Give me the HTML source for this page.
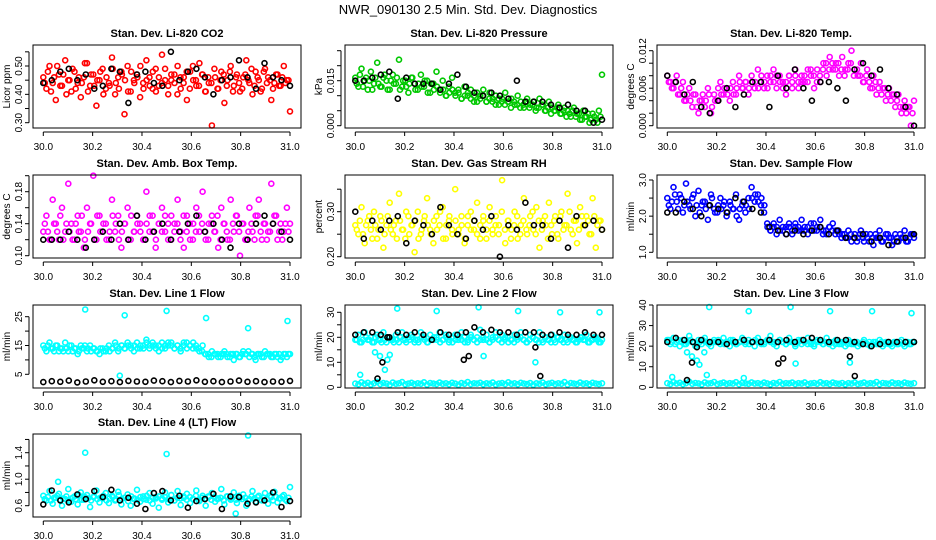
<!DOCTYPE html>
<html><head><meta charset="utf-8"><title>NWR_090130 Diagnostics</title>
<style>
html,body{margin:0;padding:0;background:#fff;}
svg{display:block;font-family:"Liberation Sans",sans-serif;}
</style></head>
<body>
<svg id="chart" width="936" height="540" viewBox="0 0 936 540" xmlns="http://www.w3.org/2000/svg">
<text x="468" y="14" text-anchor="middle" font-size="13">NWR_090130  2.5 Min. Std. Dev. Diagnostics</text>
</svg>
<script>
// ---- data ----
const xTicks = [30.0,30.2,30.4,30.6,30.8,31.0];
const titles = ["Stan. Dev. Li-820 CO2","Stan. Dev. Li-820 Pressure","Stan. Dev. Li-820 Temp.","Stan. Dev. Amb. Box Temp.","Stan. Dev. Gas Stream RH","Stan. Dev. Sample Flow","Stan. Dev. Line 1 Flow","Stan. Dev. Line 2 Flow","Stan. Dev. Line 3 Flow","Stan. Dev. Line 4 (LT) Flow"];
const yLabels = ["Licor ppm","kPa","degrees C","degrees C","percent","ml/min","ml/min","ml/min","ml/min","ml/min"];
const colors = ["#ff0000","#00c800","#ff00ff","#ff00ff","#ffff00","#0000ff","#00ffff","#00ffff","#00ffff","#00ffff"];

const co2Color = [0.46,0.42,0.50,0.44,0.38,0.47,0.43,0.52,0.45,0.41,0.48,0.44,0.39,0.46,0.51,0.43,0.47,0.36,0.45,0.49,0.42,0.44,0.53,0.40,0.46,0.48,0.33,0.50,0.41,0.45,0.47,0.39,0.44,0.52,0.46,0.42,0.49,0.43,0.54,0.45,0.40,0.47,0.44,0.50,0.42,0.46,0.38,0.48,0.45,0.43,0.51,0.47,0.41,0.44,0.29,0.46,0.42,0.48,0.37,0.45,0.50,0.43,0.47,0.41,0.46,0.52,0.44,0.40,0.48,0.45,0.42,0.49,0.46,0.38,0.44,0.47,0.43,0.50,0.45,0.34];
const co2ColorB = [0.44,0.48,0.41,0.46,0.50,0.43,0.47,0.40,0.45,0.49,0.42,0.46,0.44,0.51,0.41,0.47,0.43,0.45,0.48,0.40,0.46,0.43,0.49,0.44,0.42,0.47,0.45,0.41,0.48,0.44,0.46,0.50,0.42,0.45,0.43,0.48,0.41,0.46,0.44,0.49,0.43,0.45,0.47,0.40,0.46,0.44,0.48,0.42,0.50,0.45,0.43,0.47,0.41,0.46,0.44,0.49,0.42,0.45,0.47,0.43,0.48,0.41,0.46,0.44,0.42,0.47,0.45,0.49,0.43,0.46,0.41,0.48,0.44,0.45,0.42,0.47,0.43,0.46,0.44,0.45];
const co2Black = [0.44,0.45,0.48,0.49,0.45,0.47,0.42,0.43,0.49,0.48,0.37,0.47,0.48,0.44,0.43,0.55,0.45,0.48,0.49,0.46,0.40,0.45,0.46,0.52,0.46,0.42,0.51,0.46,0.45,0.43];
const presColor = [0.016,0.013,0.019,0.015,0.012,0.018,0.014,0.021,0.013,0.016,0.015,0.012,0.017,0.014,0.022,0.013,0.015,0.011,0.016,0.014,0.012,0.017,0.013,0.015,0.011,0.014,0.018,0.012,0.015,0.010,0.013,0.016,0.011,0.012,0.009,0.013,0.010,0.012,0.008,0.011,0.010,0.012,0.008,0.011,0.009,0.010,0.007,0.009,0.011,0.008,0.009,0.007,0.010,0.008,0.006,0.009,0.007,0.008,0.006,0.009,0.007,0.005,0.008,0.006,0.005,0.007,0.004,0.006,0.005,0.003,0.006,0.004,0.002,0.005,0.003,0.001,0.004,0.002,0.005,0.017];
const presColorB = [0.014,0.017,0.013,0.016,0.015,0.012,0.016,0.014,0.013,0.017,0.012,0.015,0.014,0.016,0.012,0.015,0.013,0.014,0.016,0.012,0.014,0.013,0.015,0.011,0.014,0.012,0.013,0.011,0.012,0.010,0.011,0.012,0.010,0.011,0.009,0.010,0.011,0.009,0.010,0.008,0.009,0.010,0.008,0.009,0.008,0.007,0.009,0.008,0.007,0.008,0.006,0.008,0.007,0.006,0.007,0.008,0.006,0.007,0.005,0.006,0.007,0.005,0.006,0.004,0.005,0.006,0.004,0.005,0.003,0.004,0.005,0.003,0.004,0.002,0.003,0.004,0.002,0.003,0.001,0.003];
const presBlack = [0.015,0.015,0.016,0.017,0.018,0.009,0.016,0.014,0.014,0.014,0.012,0.014,0.017,0.013,0.011,0.010,0.011,0.010,0.009,0.015,0.008,0.008,0.008,0.007,0.006,0.007,0.005,0.005,0.001,0.002];
const tempColor = [0.008,0.007,0.006,0.008,0.005,0.007,0.004,0.006,0.003,0.005,0.002,0.004,0.003,0.006,0.002,0.005,0.004,0.007,0.005,0.006,0.004,0.007,0.005,0.008,0.006,0.007,0.005,0.008,0.006,0.009,0.007,0.006,0.008,0.007,0.009,0.006,0.008,0.007,0.005,0.008,0.007,0.009,0.006,0.008,0.007,0.009,0.008,0.006,0.009,0.007,0.010,0.008,0.011,0.009,0.010,0.008,0.011,0.009,0.010,0.012,0.009,0.008,0.010,0.007,0.009,0.006,0.008,0.005,0.007,0.006,0.004,0.006,0.005,0.003,0.005,0.002,0.004,0.003,0.000,0.004];
const tempColorB = [0.007,0.006,0.007,0.005,0.006,0.004,0.005,0.004,0.005,0.003,0.004,0.005,0.004,0.005,0.003,0.004,0.006,0.005,0.006,0.005,0.006,0.005,0.006,0.007,0.006,0.007,0.006,0.007,0.007,0.006,0.008,0.007,0.006,0.008,0.007,0.008,0.007,0.006,0.007,0.008,0.006,0.008,0.007,0.007,0.008,0.007,0.009,0.008,0.007,0.008,0.009,0.010,0.009,0.010,0.009,0.010,0.009,0.008,0.009,0.010,0.008,0.009,0.008,0.007,0.008,0.007,0.006,0.007,0.006,0.005,0.006,0.005,0.004,0.005,0.004,0.003,0.003,0.002,0.003,0.002];
const tempBlack = [0.008,0.007,0.005,0.007,0.003,0.002,0.004,0.006,0.003,0.005,0.007,0.007,0.003,0.008,0.006,0.009,0.006,0.004,0.007,0.007,0.006,0.004,0.009,0.010,0.008,0.009,0.006,0.005,0.003,0.000];
const ambColor = [0.13,0.15,0.12,0.17,0.14,0.12,0.16,0.13,0.19,0.14,0.12,0.15,0.13,0.11,0.16,0.14,0.20,0.12,0.15,0.13,0.14,0.12,0.17,0.13,0.15,0.11,0.14,0.16,0.12,0.13,0.15,0.14,0.12,0.18,0.13,0.15,0.11,0.14,0.16,0.13,0.12,0.15,0.14,0.17,0.13,0.11,0.15,0.12,0.14,0.16,0.13,0.18,0.12,0.14,0.15,0.13,0.11,0.16,0.14,0.12,0.17,0.13,0.15,0.10,0.14,0.12,0.16,0.13,0.15,0.17,0.12,0.14,0.13,0.19,0.15,0.12,0.14,0.13,0.16,0.14];
const ambColorB = [0.14,0.13,0.12,0.14,0.13,0.15,0.12,0.14,0.13,0.12,0.14,0.13,0.15,0.12,0.13,0.14,0.12,0.15,0.13,0.14,0.12,0.13,0.15,0.14,0.12,0.13,0.14,0.12,0.15,0.13,0.14,0.13,0.12,0.14,0.15,0.13,0.12,0.14,0.13,0.15,0.14,0.12,0.13,0.14,0.12,0.15,0.13,0.14,0.12,0.13,0.15,0.14,0.13,0.12,0.14,0.13,0.15,0.12,0.14,0.13,0.12,0.14,0.15,0.13,0.14,0.12,0.13,0.14,0.12,0.15,0.13,0.14,0.12,0.13,0.14,0.15,0.13,0.12,0.14,0.13];
const ambBlack = [0.12,0.12,0.12,0.13,0.12,0.11,0.12,0.13,0.12,0.14,0.12,0.15,0.12,0.13,0.14,0.12,0.13,0.14,0.15,0.13,0.14,0.12,0.11,0.14,0.12,0.14,0.15,0.14,0.13,0.12];
const rhColor = [0.27,0.25,0.31,0.23,0.28,0.26,0.30,0.24,0.29,0.22,0.27,0.32,0.25,0.28,0.34,0.26,0.24,0.29,0.27,0.21,0.30,0.25,0.28,0.33,0.26,0.23,0.29,0.27,0.31,0.24,0.28,0.26,0.35,0.25,0.29,0.23,0.27,0.30,0.26,0.32,0.24,0.28,0.26,0.31,0.25,0.29,0.27,0.37,0.23,0.28,0.26,0.30,0.24,0.27,0.33,0.25,0.29,0.26,0.31,0.22,0.28,0.27,0.32,0.25,0.29,0.24,0.30,0.27,0.34,0.26,0.28,0.23,0.31,0.27,0.29,0.25,0.33,0.22,0.28,0.26];
const rhColorB = [0.26,0.28,0.25,0.27,0.29,0.24,0.27,0.26,0.28,0.25,0.29,0.26,0.27,0.24,0.28,0.26,0.30,0.25,0.27,0.28,0.24,0.26,0.29,0.27,0.25,0.28,0.26,0.30,0.24,0.27,0.29,0.25,0.28,0.26,0.27,0.24,0.29,0.26,0.28,0.25,0.27,0.29,0.24,0.28,0.26,0.27,0.25,0.30,0.26,0.28,0.24,0.27,0.29,0.25,0.28,0.26,0.27,0.30,0.25,0.28,0.26,0.29,0.24,0.27,0.28,0.25,0.29,0.26,0.27,0.30,0.25,0.28,0.26,0.29,0.27,0.28,0.25,0.29,0.27,0.28];
const rhBlack = [0.30,0.24,0.28,0.26,0.28,0.29,0.23,0.28,0.27,0.25,0.31,0.27,0.25,0.24,0.28,0.26,0.29,0.20,0.27,0.26,0.32,0.27,0.27,0.24,0.28,0.22,0.29,0.27,0.28,0.26];
const flowColor = [2.5,2.2,2.8,2.4,2.6,2.1,2.9,2.3,2.5,2.0,2.7,2.3,2.4,1.9,2.6,2.2,2.1,2.5,2.3,2.0,2.4,2.2,2.6,1.9,2.3,2.1,2.5,2.8,2.4,2.6,2.3,2.1,1.8,1.6,1.7,1.5,1.9,1.6,1.7,1.8,1.5,1.7,1.6,1.9,1.7,1.5,1.8,1.6,1.7,1.9,1.6,1.5,1.7,1.8,1.6,1.5,1.5,1.4,1.6,1.3,1.5,1.4,1.6,1.3,1.4,1.5,1.2,1.4,1.6,1.3,1.5,1.4,1.2,1.5,1.3,1.4,1.6,1.3,1.5,1.4];
const flowColorB = [2.3,2.4,2.6,2.2,2.5,2.3,2.4,2.2,2.6,2.3,2.1,2.4,2.2,2.3,2.5,2.1,2.3,2.2,2.4,2.1,2.3,2.2,2.0,2.2,2.4,2.3,2.2,2.5,2.6,2.4,2.5,2.3,1.7,1.6,1.8,1.7,1.6,1.7,1.5,1.7,1.6,1.8,1.7,1.6,1.6,1.7,1.6,1.8,1.6,1.7,1.5,1.6,1.7,1.6,1.5,1.6,1.4,1.5,1.4,1.5,1.4,1.3,1.5,1.4,1.5,1.3,1.4,1.5,1.4,1.3,1.4,1.5,1.4,1.3,1.4,1.5,1.4,1.3,1.4,1.5];
const flowBlack = [2.1,2.1,2.4,2.2,2.0,2.3,2.2,2.1,2.5,2.4,2.2,2.1,1.7,1.6,1.5,1.6,1.5,1.6,1.7,1.5,1.6,1.4,1.4,1.5,1.3,1.4,1.2,1.3,1.4,1.5];
const line1Color = [15,13,16,14,15,13,14,16,13,15,14,12,15,14,13,15,14,13,12,14,13,15,14,16,13,15,14,16,15,13,16,14,15,17,14,16,15,13,16,14,15,16,14,15,13,16,14,15,16,14,13,15,12,11,13,12,11,12,13,11,12,10,12,11,13,12,11,12,10,12,11,13,12,11,12,11,10,12,11,12];
const line1ColorB = [14,15,14,13,15,14,13,14,15,13,14,13,14,15,14,13,14,13,14,13,14,13,14,15,14,15,14,15,14,15,14,15,14,16,15,15,14,15,14,15,16,15,14,15,14,15,16,15,14,15,14,13,12,12,11,12,12,11,12,12,11,12,12,11,12,12,13,12,11,12,12,11,12,12,11,12,12,11,12,12];
const line1Black = [2.3,2.6,2.4,2.8,2.2,2.5,2.9,2.4,2.6,2.3,2.7,2.5,2.4,2.8,2.6,2.3,2.7,2.5,2.9,2.4,2.6,2.3,2.5,2.8,2.4,2.6,2.3,2.5,2.4,2.7];
const line1OutX = [30.17,30.33,30.50,30.66,30.83,30.99,30.31];
const line1OutY = [27.5,25.5,27,24.5,21,23.5,4.5];
const line2Low = [1.5,1.2,2.0,1.4,1.8,1.1,1.6,2.2,1.3,1.7,1.5,1.0,1.9,1.4,1.6,2.1,1.2,1.5,1.8,1.3,1.6,1.4,2.0,1.1,1.7,1.5,1.3,1.9,1.4,1.6,1.2,1.8,1.5,1.0,1.7,1.4,2.1,1.3,1.6,1.5,1.8,1.2,1.6,1.4,1.9,1.1,1.5,1.7,1.3,2.0,1.4,1.6,1.2,1.8,1.5,1.3,1.7,1.0,1.6,1.4,1.9,1.2,1.5,1.8,1.3,1.6,1.4,2.1,1.1,1.7,1.5,1.3,1.9,1.4,1.6,1.2,1.8,1.5,1.3,1.6];
const line2High = [19,21,18,22,19,20,18,21,19,22,18,20,19,21,18,22,19,20,21,18,19,22,20,18,21,19,20,22,19,21,18,20,21,19,22,20,18,21,19,20,23,19,21,18,20,22,19,21,20,18,19,21,20,22,19,18,21,20,19,22,18,20,19,21,18,20,19,21,18,20,19,18,20,19,21,18,19,20,18,19];
const line2HighB = [19,18,19,20,19,18,20,19,18,19,20,19,18,19,20,19,18,19,20,19,18,20,19,18,19,20,19,18,19,20,19,18,19,20,19,18,19,20,19,18,19,20,19,18,19,20,19,18,19,20,19,18,19,20,19,18,19,20,19,18,19,20,19,18,19,20,19,18,19,20,19,18,19,20,19,18,19,20,19,18];
const line2Black = [21,22,22,21,20,22,21,22,21,19,22,21,21,22,24,22,23,22,22,21,22,22,21,21,22,21,21,22,21,21];
const line2OutX = [30.02,30.08,30.10,30.12,30.13,30.14,30.17,30.33,30.50,30.52,30.66,30.73,30.83,30.99];
const line2OutY = [5,14,12.5,7,11,13,31.5,30.5,32,12.5,30.5,10,30,30];
const line2BOutX = [30.09,30.11,30.13,30.44,30.46,30.73,30.75];
const line2BOutY = [3.5,10,20,11,12.5,16,4.5];
const line3Low = [2.0,1.6,2.5,1.8,2.2,1.5,2.0,2.7,1.7,2.1,1.9,1.4,2.4,1.8,2.0,2.6,1.6,1.9,2.3,1.7,2.0,1.8,2.5,1.5,2.1,1.9,1.7,2.4,1.8,2.0,1.6,2.3,1.9,1.4,2.1,1.8,2.6,1.7,2.0,1.9,2.3,1.6,2.0,1.8,2.4,1.5,1.9,2.1,1.7,2.5,1.8,2.0,1.6,2.3,1.9,1.7,2.1,1.4,2.0,1.8,2.4,1.6,1.9,2.3,1.7,2.0,1.8,2.6,1.5,2.1,1.9,1.7,2.4,1.8,2.0,1.6,2.3,1.9,1.7,2.0];
const line3High = [23,21,24,22,20,23,21,25,22,20,23,21,24,22,20,23,22,21,24,22,20,23,21,22,24,21,23,22,20,24,22,21,23,25,22,20,23,22,21,24,22,20,23,21,22,24,21,20,23,22,21,24,22,20,23,21,22,20,23,21,22,20,21,23,21,20,22,21,23,20,22,21,20,22,21,23,20,22,21,22];
const line3HighB = [23,22,21,23,22,21,22,23,22,21,22,23,22,21,22,22,23,22,21,22,23,22,21,22,23,22,21,22,23,22,21,22,23,22,21,22,23,22,21,22,22,21,22,23,22,21,22,21,22,23,21,22,21,22,21,22,21,22,21,22,21,22,21,22,21,22,21,22,21,22,21,22,21,22,21,22,21,22,21,22];
const line3Black = [22,24,23,22,23,22,22,21,22,23,22,22,23,22,23,22,23,24,23,22,23,23,22,21,20,21,22,22,22,22];
const line3OutX = [30.17,30.33,30.50,30.66,30.83,30.99,30.02,30.08,30.10,30.12,30.13,30.15,30.16,30.31,30.52,30.74];
const line3OutY = [39,37,39,37,37,36,5,17,15,13,11,17,6,4.5,11.5,12];
const line3BOutX = [30.08,30.10,30.12,30.45,30.47,30.74,30.76];
const line3BOutY = [3.5,12,19.5,11.5,14,15,5.5];
const line4Color = [0.75,0.68,0.82,0.63,0.72,0.78,0.60,0.70,0.85,0.66,0.74,0.62,0.80,0.69,0.76,0.58,0.73,0.83,0.65,0.71,0.79,0.64,0.75,0.68,0.81,0.62,0.72,0.77,0.60,0.70,0.84,0.66,0.74,0.69,0.79,0.63,0.73,0.57,0.71,0.80,0.65,0.76,0.68,0.82,0.61,0.72,0.78,0.64,0.70,0.83,0.67,0.75,0.60,0.73,0.79,0.66,0.71,0.85,0.62,0.74,0.69,0.80,0.64,0.72,0.77,0.60,0.70,0.82,0.66,0.75,0.68,0.79,0.63,0.73,0.81,0.65,0.71,0.76,0.67,0.88];
const line4ColorB = [0.70,0.73,0.68,0.72,0.75,0.69,0.71,0.74,0.67,0.72,0.70,0.76,0.69,0.73,0.71,0.68,0.74,0.70,0.72,0.75,0.68,0.71,0.73,0.69,0.76,0.70,0.72,0.67,0.74,0.71,0.69,0.73,0.70,0.75,0.68,0.72,0.71,0.74,0.69,0.73,0.70,0.76,0.68,0.72,0.71,0.74,0.69,0.73,0.70,0.75,0.68,0.72,0.71,0.74,0.69,0.73,0.70,0.72,0.68,0.74,0.71,0.73,0.69,0.75,0.70,0.72,0.68,0.74,0.71,0.73,0.69,0.72,0.70,0.75,0.68,0.73,0.71,0.74,0.69,0.72];
const line4Black = [0.62,0.83,0.68,0.65,0.77,0.70,0.82,0.73,0.84,0.68,0.72,0.63,0.55,0.79,0.82,0.68,0.75,0.57,0.67,0.70,0.78,0.55,0.74,0.73,0.63,0.65,0.68,0.80,0.58,0.67];
const line4OutX = [30.17,30.50,30.83,30.06,30.78];
const line4OutY = [1.40,1.38,1.66,0.96,0.48];

const yTickSets = [
 [0.30,0.35,0.40,0.45,0.50,0.55],[0,0.005,0.010,0.015,0.020,0.025],[0,0.002,0.004,0.006,0.008,0.010,0.012],
 [0.10,0.12,0.14,0.16,0.18,0.20],[0.20,0.25,0.30,0.35],[1.0,1.5,2.0,2.5,3.0],
 [5,10,15,20,25],[0,5,10,15,20,25,30],[0,10,20,30,40],[0.6,0.8,1.0,1.2,1.4,1.6]];
const yTickLabels = [
 ["0.30","","0.40","","0.50",""],["0.000","","","0.015","",""],["0.000","","","0.006","","","0.012"],
 ["0.10","","0.14","","0.18",""],["0.20","","0.30",""],["1.0","","2.0","","3.0"],
 ["5","","15","","25"],["0","","10","","20","","30"],["0","10","20","30","40"],["0.6","","1.0","","1.4",""]];
const yRef = [[0.3,77.7,0.5,21],[0,80.7,0.015,35.7],[0,80.7,0.012,5.7],[0.10,80.7,0.20,0.7],[0.20,81.7,0.30,36.7],[1.0,77.3,3.0,5],[5,69.3,25,11.7],[0,82.3,30,7.3],[0,82.3,40,0],[0.6,71.7,1.4,18.7]];

const panelSeries = [
 [{v:co2Color,c:0},{v:co2ColorB,c:0,h:1},{v:co2Black,c:"#000"}],
 [{v:presColor,c:1},{v:presColorB,c:1,h:1},{v:presBlack,c:"#000"}],
 [{v:tempColor,c:2},{v:tempColorB,c:2,h:1},{v:tempBlack,c:"#000"}],
 [{v:ambColor,c:3},{v:ambColorB,c:3,h:1},{v:ambBlack,c:"#000"}],
 [{v:rhColor,c:4},{v:rhColorB,c:4,h:1},{v:rhBlack,c:"#000"}],
 [{v:flowColor,c:5},{v:flowColorB,c:5,h:1},{v:flowBlack,c:"#000"}],
 [{v:line1Color,c:6},{v:line1ColorB,c:6,h:1},{x:line1OutX,y:line1OutY,c:6},{v:line1Black,c:"#000"}],
 [{v:line2Low,c:7},{v:line2High,c:7},{v:line2HighB,c:7,h:1},{x:line2OutX,y:line2OutY,c:7},{v:line2Black,c:"#000"},{x:line2BOutX,y:line2BOutY,c:"#000"}],
 [{v:line3Low,c:8},{v:line3High,c:8},{v:line3HighB,c:8,h:1},{x:line3OutX,y:line3OutY,c:8},{v:line3Black,c:"#000"},{x:line3BOutX,y:line3BOutY,c:"#000"}],
 [{v:line4Color,c:9},{v:line4ColorB,c:9,h:1},{x:line4OutX,y:line4OutY,c:9},{v:line4Black,c:"#000"}]
];

const NS="http://www.w3.org/2000/svg";
const svg=document.getElementById('chart');
function mk(tag,attrs,parent){const e=document.createElementNS(NS,tag);for(const k in attrs)e.setAttribute(k,attrs[k]);(parent||svg).appendChild(e);return e;}
const rowTops=[45,175,305,434];
const BOXH=83;

for(let p=0;p<10;p++){
  const col=p%3,row=Math.floor(p/3);
  const ox=col*312, top=rowTops[row], bot=top+BOXH;
  const left=33+ox, right=301+ox;
  const g=mk('g',{});
  
  
  const xs=v=>43.3+ox+(v-30)*(290-43.3);
  const r=yRef[p];
  const ys=v=>top+r[1]+(v-r[0])*(r[3]-r[1])/(r[2]-r[0]);
  const t=mk('text',{x:(left+right)/2,y:top-8,'text-anchor':'middle','font-size':'11','font-weight':'bold'},g);
  t.textContent=titles[p];
  
  
  const pg=mk('g',{fill:'none','stroke-width':'1.6'},g);
  
  
  panelSeries[p].forEach(s=>{
    const color=typeof s.c==='number'?colors[s.c]:s.c;
    const pts=[];
    if(s.v){const n=s.v.length;s.v.forEach((y,i)=>pts.push([s.h?30+(i+0.5)/n:30+i/(n-1),y]));}
    else s.x.forEach((x,i)=>pts.push([x,s.y[i]]));
    pts.forEach(([x,y])=>{
      const c=mk('circle',{cx:xs(x).toFixed(1),cy:ys(y).toFixed(1),r:'2.5',stroke:color},pg);
      
      
    });
  });
  const b=mk('rect',{x:left,y:top,width:right-left,height:BOXH,fill:'none',stroke:'#000','stroke-width':'1'},g);
  
  
  const xa=mk('g',{},g);
  
  
  mk('line',{x1:xs(30),x2:xs(31),y1:bot+4,y2:bot+4,stroke:'#000'},xa);
  xTicks.forEach(v=>{
    mk('line',{x1:xs(v),x2:xs(v),y1:bot+4,y2:bot+8,stroke:'#000'},xa);
    const tl=mk('text',{x:xs(v),y:bot+22,'text-anchor':'middle','font-size':'10'},xa);
    tl.textContent=v.toFixed(1);
    
    
  });
  const ya=mk('g',{},g);
  
  
  const tv=yTickSets[p];
  mk('line',{x1:left-4,x2:left-4,y1:ys(tv[0]),y2:ys(tv[tv.length-1]),stroke:'#000'},ya);
  tv.forEach((v,i)=>{
    const y=ys(v);
    mk('line',{x1:left-8,x2:left-4,y1:y,y2:y,stroke:'#000'},ya);
    if(yTickLabels[p][i]){
      const tl=mk('text',{x:left-11,y:y,'text-anchor':'middle','font-size':'10',transform:`rotate(-90 ${left-11} ${y})`},ya);
      tl.textContent=yTickLabels[p][i];
      
      
    }
  });
  const yl=mk('text',{x:left-23,y:top+BOXH/2,'text-anchor':'middle','font-size':'10',transform:`rotate(-90 ${left-23} ${top+BOXH/2})`},ya);
  yl.textContent=yLabels[p];
  
  
}
</script>
</body></html>
